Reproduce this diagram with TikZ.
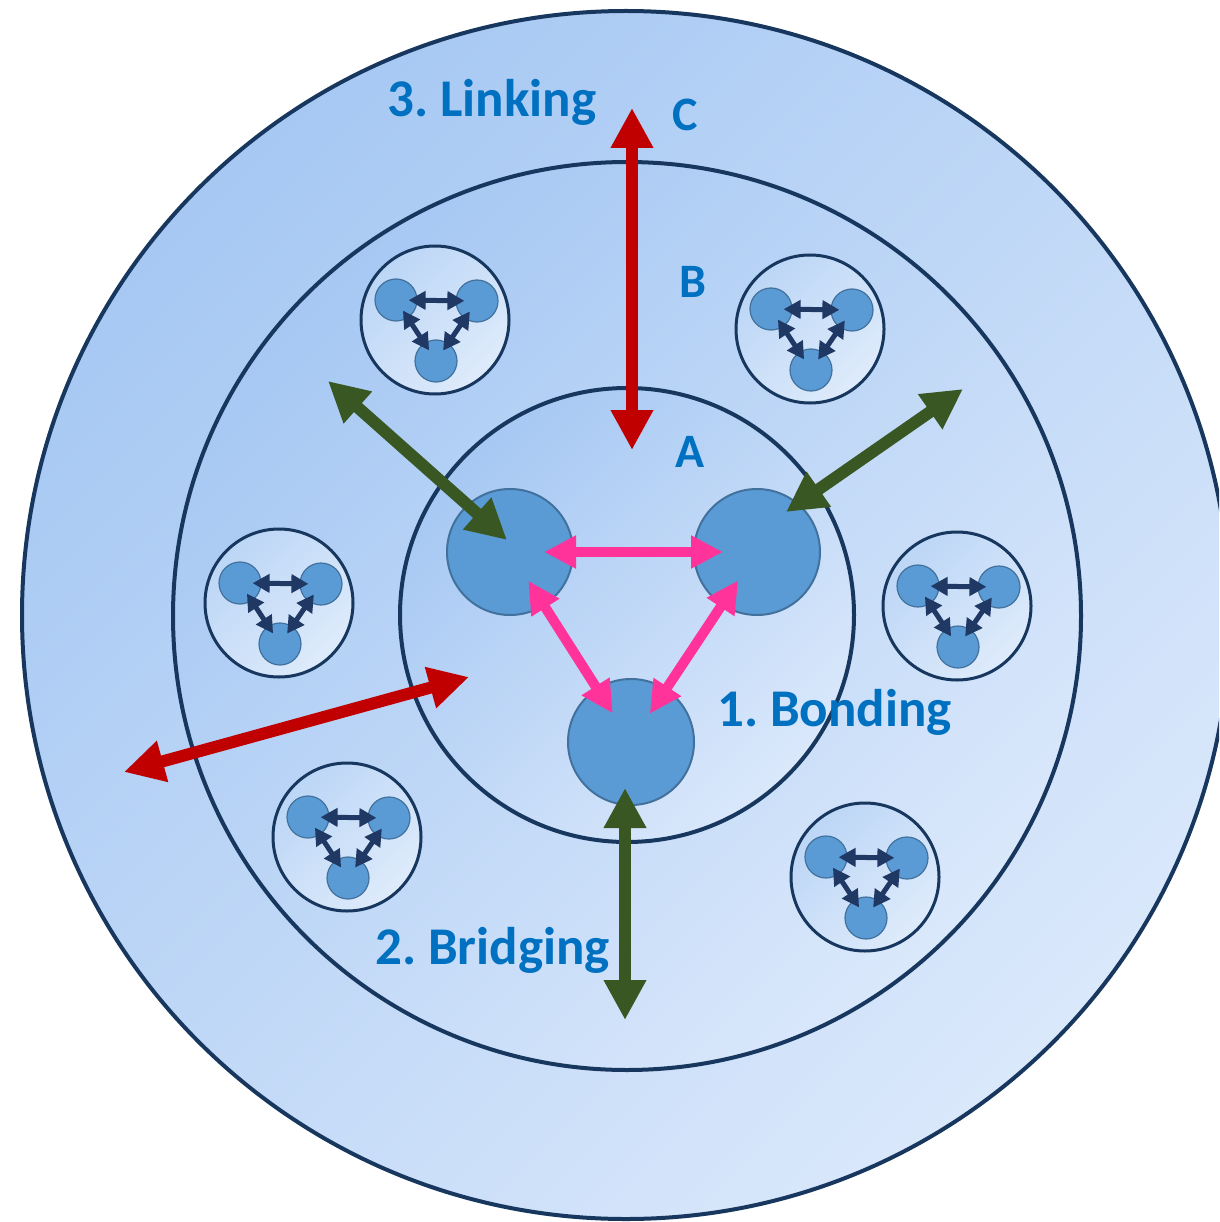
\documentclass[tikz,border=0pt]{standalone}
\usepackage{fontspec}
\setmainfont{Carlito}
\usetikzlibrary{arrows.meta,calc}
\definecolor{navy}{HTML}{17375E}
\definecolor{nodeblue}{HTML}{5B9BD5}
\definecolor{nodeedge}{HTML}{41719C}
\definecolor{pinkA}{HTML}{FF3399}
\definecolor{redA}{HTML}{C00000}
\definecolor{greenA}{HTML}{385723}
\definecolor{txtblue}{HTML}{0070C0}
\definecolor{arrnavy}{HTML}{203864}
\definecolor{shadeA}{HTML}{A6C8F3}
\definecolor{shadeB}{HTML}{DAE8FB}
\definecolor{shadeC}{HTML}{BCD6F6}
\definecolor{shadeD}{HTML}{DEEBFB}
\frenchspacing
\begin{document}
\begin{tikzpicture}[x=1pt,y=-1pt,
  ring/.style={circle, draw=navy, line width=4pt, top color=shadeA, bottom color=shadeB, shading angle=45, inner sep=0pt},
  cluster/.style={circle, draw=navy, line width=3pt, top color=shadeC, bottom color=shadeD, shading angle=45, inner sep=0pt, minimum size=148pt},
  bignode/.style={circle, fill=nodeblue, draw=nodeedge, line width=2pt, inner sep=0pt, minimum size=126pt},
  smallnode/.style={circle, fill=nodeblue, draw=nodeedge, line width=1.2pt, inner sep=0pt, minimum size=42pt},
  smallarr/.style={draw=arrnavy, line width=5pt, {Triangle[length=17pt,width=18pt]}-{Triangle[length=17pt,width=18pt]}, shorten <=-9pt, shorten >=-9pt},
  pinkarr/.style={draw=pinkA, line width=10pt, {Triangle[length=32pt,width=31pt]}-{Triangle[length=32pt,width=31pt]}, shorten <=-30pt, shorten >=-30pt},
  redarr/.style={draw=redA, line width=12pt, {Triangle[length=40pt,width=40pt]}-{Triangle[length=40pt,width=40pt]}},
  greenarr/.style={draw=greenA, line width=12pt, {Triangle[length=40pt,width=40pt]}-{Triangle[length=40pt,width=40pt]}},
  lbl/.style={text=txtblue, font=\fontsize{53}{60}\selectfont\bfseries, inner sep=0pt},
  letter/.style={text=txtblue, font=\fontsize{48}{56}\selectfont\bfseries, inner sep=0pt, anchor=base}
]
\useasboundingbox (0,0) rectangle (1219,1222);
\clip (0,0) rectangle (1219,1222);
% rings
\node[ring, minimum size=1208pt] (outer) at (626,615) {};
\node[ring, minimum size=908pt] (middle) at (627,616) {};
\node[ring, minimum size=454pt] (inner) at (627,615) {};
% clusters
\foreach \i/\cx/\cy in {1/435/320, 2/810/329, 3/279/603, 4/957/606, 5/347/837, 6/865/877}{
  \node[cluster] (c\i) at (\cx,\cy) {};
  \node[smallnode] (c\i-a) at (\cx-39,\cy-20) {};
  \node[smallnode] (c\i-b) at (\cx+42,\cy-19) {};
  \node[smallnode] (c\i-c) at (\cx+1,\cy+41) {};
  \draw[smallarr] (c\i-a) -- (c\i-b);
  \draw[smallarr] (c\i-a) -- (c\i-c);
  \draw[smallarr] (c\i-b) -- (c\i-c);
}
% big nodes
\node[bignode] (tl) at (510,552) {};
\node[bignode] (tr) at (757,552) {};
\node[bignode] (bt) at (631,742) {};
% pink bonding arrows
\draw[pinkarr] (tl) -- (tr);
\draw[pinkarr] (tl) -- (bt);
\draw[pinkarr] (tr) -- (bt);
% green bridging arrows
\coordinate (g1) at (328,381);
\coordinate (g1t) at ($(tl)+(-3,-12)$);
\coordinate (g2) at (963,389);
\coordinate (g2t) at ($(tr)+(29,-40)$);
\coordinate (g3) at (625,1020);
\coordinate (g3t) at ($(bt)+(-6,46)$);
\draw[greenarr] (g1) -- (g1t);
\draw[greenarr] (g2) -- (g2t);
\draw[greenarr] (g3t) -- (g3);
% red linking arrows
\coordinate (r1a) at (632,108);
\coordinate (r1b) at (632,450);
\coordinate (r2a) at (124,772);
\coordinate (r2b) at (469,677);
\draw[redarr] (r1a) -- (r1b);
\draw[redarr] (r2a) -- (r2b);
% labels
\node[lbl, anchor=base west] (t3) at (387,117) {3. Linking};
\node[lbl, anchor=base west] (t1) at (717,726) {1. Bonding};
\node[lbl, anchor=base west] (t2) at (375,964) {2. Bridging};
\node[letter] (tC) at (685,131) {C};
\node[letter] (tB) at (693,298) {B};
\node[letter] (tA) at (690,467) {A};
\end{tikzpicture}
\end{document}
